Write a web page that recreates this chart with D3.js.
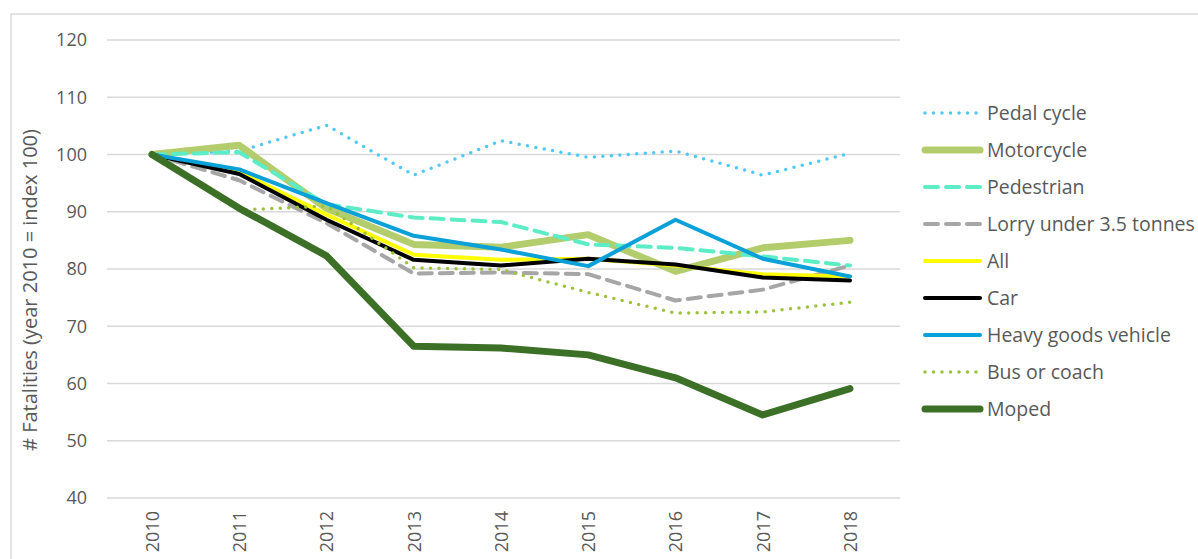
<!DOCTYPE html>
<html lang="en">
  <head>
    <meta charset="utf-8" />
    <title>Fatalities index</title>
    <style>
      body { margin: 0; background: #fff; }
      text { font-family: "Open Sans", sans-serif; fill: #595959; }
    </style>
  </head>
  <body>
    <script src="https://d3js.org/d3.v7.min.js"></script>
    <div id="my_dataviz"></div>
    <script>
      // data
      const years = ["2010", "2011", "2012", "2013", "2014", "2015", "2016", "2017", "2018"];
      const yTicks = [40, 50, 60, 70, 80, 90, 100, 110, 120];

      const pedalCycle = [100, 100.6, 105.1, 96.4, 102.4, 99.5, 100.6, 96.4, 100.2];
      const motorcycle = [100, 101.6, 90.6, 84.3, 83.8, 86, 79.6, 83.7, 85];
      const pedestrian = [100, 100.4, 91.3, 89, 88.2, 84.3, 83.7, 82.2, 80.6];
      const lorry = [100, 95.5, 88, 79.2, 79.4, 79.1, 74.5, 76.4, 80.6];
      const all = [100, 97, 89.5, 82.5, 81.6, 81.8, 80.6, 79.1, 78.7];
      const car = [100, 96.6, 88.6, 81.6, 80.6, 81.8, 80.8, 78.5, 78];
      const hgv = [100, 97.4, 91.5, 85.8, 83.4, 80.5, 88.6, 81.8, 78.7];
      const bus = [100, 90.3, 91, 80.2, 79.9, 75.9, 72.3, 72.5, 74.2];
      const moped = [100, 90.6, 82.3, 66.5, 66.2, 65, 61, 54.5, 59.1];

      const series = [
        { name: "Pedal cycle", values: pedalCycle, color: "#4fc8f8", width: 3.5, dash: "0 8.5", cap: "round" },
        { name: "Motorcycle", values: motorcycle, color: "#b4cd6c", width: 7, dash: null, cap: "round" },
        { name: "Pedestrian", values: pedestrian, color: "#5cecc6", width: 4, dash: "13 8", cap: "round" },
        { name: "Lorry under 3.5 tonnes", values: lorry, color: "#a6a6a6", width: 4, dash: "13 8", cap: "round" },
        { name: "All", values: all, color: "#ffff00", width: 4, dash: null, cap: "round" },
        { name: "Car", values: car, color: "#000000", width: 4, dash: null, cap: "round" },
        { name: "Heavy goods vehicle", values: hgv, color: "#0aa0d8", width: 4, dash: null, cap: "round" },
        { name: "Bus or coach", values: bus, color: "#9cc23c", width: 3.5, dash: "0 8.5", cap: "round" },
        { name: "Moped", values: moped, color: "#3b7026", width: 7, dash: null, cap: "round" }
      ];

      const W = 1198, H = 559;

      const svg = d3.select("#my_dataviz")
        .append("svg")
        .attr("width", W)
        .attr("height", H);

      // chart frame
      svg.append("rect")
        .attr("x", 11).attr("y", 14)
        .attr("width", W).attr("height", H)
        .attr("fill", "none")
        .attr("stroke", "#d9d9d9")
        .attr("stroke-width", 1.5);

      const x = d3.scalePoint()
        .domain(years)
        .range([152, 850]);

      const y = d3.scaleLinear()
        .domain([40, 120])
        .range([498, 40]);

      // gridlines
      svg.append("g")
        .selectAll("line")
        .data(yTicks)
        .join("line")
        .attr("x1", 107)
        .attr("x2", 900)
        .attr("y1", d => y(d))
        .attr("y2", d => y(d))
        .attr("stroke", "#d9d9d9")
        .attr("stroke-width", 1.5);

      // y axis labels
      const yAxis = svg.append("g")
        .attr("transform", "translate(95,0)")
        .call(d3.axisLeft(y).tickValues(yTicks).tickSize(0).tickPadding(8));
      yAxis.select(".domain").remove();
      yAxis.selectAll("text")
        .style("font-family", "'Open Sans', sans-serif")
        .style("font-size", "18px")
        .attr("fill", "#595959");

      // x axis labels (rotated)
      const xAxis = svg.append("g")
        .attr("transform", "translate(0,498)")
        .call(d3.axisBottom(x).tickSize(0));
      xAxis.select(".domain").remove();
      xAxis.selectAll("text")
        .style("font-family", "'Open Sans', sans-serif")
        .style("font-size", "18px")
        .attr("fill", "#595959")
        .attr("transform", "rotate(-90)")
        .attr("text-anchor", "end")
        .attr("x", -13)
        .attr("y", 0)
        .attr("dy", "0.35em");

      // y title
      svg.append("text")
        .attr("transform", "translate(37,290) rotate(-90)")
        .attr("text-anchor", "middle")
        .style("font-size", "20px")
        .text("# Fatalities (year 2010 = index 100)");

      const line = d3.line()
        .x((d, i) => x(years[i]))
        .y(d => y(d))
        .curve(d3.curveLinear);

      svg.append("g")
        .selectAll("path")
        .data(series)
        .join("path")
        .attr("fill", "none")
        .attr("stroke", d => d.color)
        .attr("stroke-width", d => d.width)
        .attr("stroke-dasharray", d => d.dash)
        .attr("stroke-linecap", d => d.cap)
        .attr("stroke-linejoin", "round")
        .attr("d", d => line(d.values));

      // legend
      const legend = svg.append("g")
        .selectAll("g")
        .data(series)
        .join("g")
        .attr("transform", (d, i) => `translate(923,${113 + i * 37})`);

      legend.append("line")
        .attr("x1", 2).attr("x2", 57)
        .attr("y1", 0).attr("y2", 0)
        .attr("stroke", d => d.color)
        .attr("stroke-width", d => d.width)
        .attr("stroke-dasharray", d => d.dash)
        .attr("stroke-linecap", d => d.cap);

      legend.append("text")
        .attr("x", 64)
        .attr("y", 0)
        .attr("dy", "0.35em")
        .style("font-size", "19.5px")
        .text(d => d.name);
    </script>
  </body>
</html>
